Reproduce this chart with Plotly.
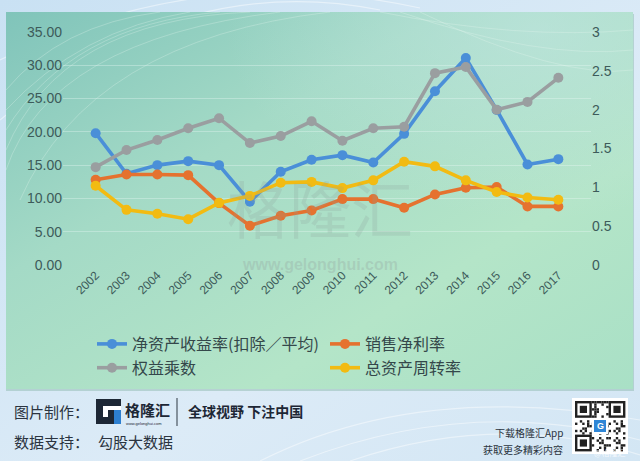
import base64
import plotly.graph_objects as go

years = [str(y) for y in range(2002, 2018)]
roe = [19.8, 13.7, 15.0, 15.6, 15.0, 9.5, 14.0, 15.8, 16.5, 15.4, 19.7, 26.1, 31.1, 23.3, 15.1, 15.9]
margin = [12.8, 13.6, 13.6, 13.5, 9.3, 5.9, 7.4, 8.2, 9.9, 9.9, 8.6, 10.6, 11.6, 11.7, 8.8, 8.8]
multiplier = [1.26, 1.48, 1.61, 1.76, 1.89, 1.57, 1.66, 1.85, 1.60, 1.76, 1.78, 2.47, 2.55, 2.00, 2.10, 2.41]
turnover = [1.02, 0.71, 0.66, 0.59, 0.80, 0.89, 1.06, 1.07, 0.99, 1.09, 1.33, 1.27, 1.09, 0.94, 0.87, 0.84]

names = ["净资产收益率(扣除／平均)", "销售净利率", "权益乘数", "总资产周转率"]
colors = ["#4a8fd8", "#e5722f", "#9a9ea0", "#f2bb12"]

W, H = 640, 461
L, R, T, B = 63, 49, 32, 196
PW, PH = W - L - R, H - T - B

def px(x):
    return (x - L) / PW

def py(y):
    return (H - B - y) / PH

CJK = "Noto Sans CJK SC"

fig = go.Figure()
series = [(roe, "y"), (margin, "y"), (multiplier, "y2"), (turnover, "y2")]
for (vals, ax), nm, c in zip(series, names, colors):
    fig.add_trace(go.Scatter(x=years, y=vals, name=nm, yaxis=ax, mode="lines+markers",
                             line=dict(color=c, width=3.6), marker=dict(color=c, size=10)))

svg = f'''<svg xmlns="http://www.w3.org/2000/svg" width="{W}" height="{H}" viewBox="0 0 {W} {H}">
<defs>
<linearGradient id="bg" x1="0" y1="0" x2="1" y2="1">
<stop offset="0" stop-color="#c9e1f3"/><stop offset="0.6" stop-color="#dcebf7"/><stop offset="1" stop-color="#d3e6f4"/></linearGradient>
<linearGradient id="pn" x1="0" y1="0" x2="1" y2="1">
<stop offset="0" stop-color="#80c4ba"/><stop offset="0.35" stop-color="#a4dac6"/><stop offset="0.7" stop-color="#b4e5c8"/><stop offset="1" stop-color="#a9e0c6"/></linearGradient>
<radialGradient id="tr" cx="0.85" cy="0.05" r="0.5">
<stop offset="0" stop-color="#c4e6e4" stop-opacity="0.55"/><stop offset="1" stop-color="#c4e6e4" stop-opacity="0"/></radialGradient>
</defs>
<rect width="{W}" height="{H}" fill="url(#bg)"/>
<g fill="none" stroke="#ffffff" stroke-opacity="0.45" stroke-width="1.2">
<path d="M0 60 Q 200 -40 420 8"/><path d="M0 120 Q 180 -30 380 10"/><path d="M260 461 Q 420 380 640 420"/>
<path d="M300 461 Q 470 395 640 440"/><path d="M350 461 Q 500 410 640 455"/>
</g>
<rect x="6" y="14" width="628" height="377" fill="#8fb9b0" opacity="0.5"/>
<rect x="6" y="12" width="627" height="377" fill="url(#pn)"/>
<rect x="6" y="12" width="627" height="377" fill="url(#tr)"/>
<g fill="none" stroke="#e8f7f2" stroke-opacity="0.28" stroke-width="1">
<path d="M6 150 Q 60 20 250 12"/><path d="M6 130 Q 70 25 220 12"/><path d="M6 110 Q 80 30 190 12"/>
<path d="M6 170 Q 50 40 280 12"/><path d="M20 200 Q 90 40 330 12"/><path d="M6 90 Q 60 25 160 12"/>
<path d="M380 12 Q 520 40 633 30"/><path d="M400 12 Q 540 60 633 50"/><path d="M420 12 Q 560 80 633 70"/>
</g>
</svg>'''
uri = "data:image/svg+xml;base64," + base64.b64encode(svg.encode("utf-8")).decode()

images = [dict(source=uri, xref="paper", yref="paper", x=px(0), y=py(0), sizex=W / PW, sizey=H / PH,
               xanchor="left", yanchor="top", sizing="stretch", layer="below")]

shapes = []
annotations = []

# watermark
annotations.append(dict(text="格隆汇", x=px(320), y=py(207), xref="paper", yref="paper", showarrow=False,
                        font=dict(family=CJK, size=62, color="rgba(140,160,155,0.22)"), xanchor="center", yanchor="middle"))
annotations.append(dict(text="<b>www.gelonghui.com</b>", x=px(320), y=py(264), xref="paper", yref="paper", showarrow=False,
                        font=dict(family="Liberation Sans", size=16, color="rgba(150,168,162,0.35)"), xanchor="center", yanchor="middle"))

# footer texts
def note(text, x, y, size, color="#2b3440", anchor="left", family=CJK):
    annotations.append(dict(text=text, x=px(x), y=py(y), xref="paper", yref="paper", showarrow=False,
                            xanchor=anchor, yanchor="middle", font=dict(family=family, size=size, color=color)))

note("图片制作：", 12, 411, 15)
note("数据支持：", 12, 441, 15)
note("勾股大数据", 96, 441, 15)
note("<b>格隆汇</b>", 123, 409, 15, color="#1d2735")
note("www.gelonghui.com", 124, 423, 4, color="#1d2735", family="Liberation Sans")
note("<b>全球视野 下注中国</b>", 186, 411, 14, color="#1d2735")
note("下载格隆汇App", 565, 432, 10, anchor="right")
note("获取更多精彩内容", 565, 450, 10, anchor="right")

def rect(x0, y0, x1, y1, fill, line=None):
    shapes.append(dict(type="rect", xref="paper", yref="paper", x0=px(x0), x1=px(x1), y0=py(y1), y1=py(y0),
                       fillcolor=fill, line=dict(width=0) if line is None else line, layer="above"))

# logo icon
rect(96, 399, 121, 424, "#1d2735")
rect(103, 406, 121, 417, "#ffffff")
rect(108, 410, 121, 417, "#1d2735")
rect(114, 410, 121, 424, "#2d7fd0")
# separator
shapes.append(dict(type="line", xref="paper", yref="paper", x0=px(177), x1=px(177), y0=py(398), y1=py(426),
                   line=dict(color="#4a5560", width=1.2)))

# QR code decoration
qx0, qy0, qs = 572, 398, 56
rect(qx0, qy0, qx0 + qs, qy0 + qs, "#ffffff")
m = 2.4
n = 21
for i in range(n):
    for j in range(n):
        finder = (i < 7 and j < 7) or (i < 7 and j >= n - 7) or (i >= n - 7 and j < 7)
        if finder:
            continue
        if (i * 5 + j * 3 + (i * j) % 7) % 3 == 0:
            x = qx0 + 3 + j * m
            y = qy0 + 3 + i * m
            rect(x, y, x + m, y + m, "#222222")
for (fi, fj) in [(0, 0), (0, n - 7), (n - 7, 0)]:
    x = qx0 + 3 + fj * m
    y = qy0 + 3 + fi * m
    rect(x, y, x + 7 * m, y + 7 * m, "#222222")
    rect(x + m, y + m, x + 6 * m, y + 6 * m, "#ffffff")
    rect(x + 2 * m, y + 2 * m, x + 5 * m, y + 5 * m, "#222222")
rect(592, 418, 608, 434, "#ffffff")
rect(594, 420, 606, 432, "#2f86d6")
note("<b>G</b>", 600, 426, 9, color="#ffffff", anchor="center", family="Liberation Sans")
note("@格隆汇", 628, 453, 8, color="rgba(255,255,255,0.8)", anchor="right")

tickfont = dict(family="Liberation Sans", size=14, color="#3d5b5a")

fig.update_layout(
    width=W, height=H,
    margin=dict(l=L, r=R, t=T, b=B, pad=0),
    paper_bgcolor="#d6e9f5",
    plot_bgcolor="rgba(0,0,0,0)",
    images=images,
    shapes=shapes,
    annotations=annotations,
    showlegend=True,
    legend=dict(orientation="h", x=px(92), y=py(327), xanchor="left", yanchor="top",
                entrywidth=188, entrywidthmode="pixels", bgcolor="rgba(0,0,0,0)",
                font=dict(family=CJK, size=16, color="#34474a"), itemwidth=30, tracegroupgap=0),
    xaxis=dict(type="category", tickangle=-45, tickfont=dict(family="Liberation Sans", size=12, color="#3d5b5a"),
               showgrid=False, showline=False, ticks="", zeroline=False),
    yaxis=dict(range=[0, 35], dtick=5, tickformat=".2f", tickfont=tickfont, showgrid=True,
               gridcolor="rgba(235,250,245,0.35)", gridwidth=1, zeroline=False, showline=False, ticks=""),
    yaxis2=dict(range=[0, 3], dtick=0.5, overlaying="y", side="right", tickfont=tickfont, showgrid=False,
                zeroline=False, showline=False, ticks=""),
)

fig.write_html("out.html")
